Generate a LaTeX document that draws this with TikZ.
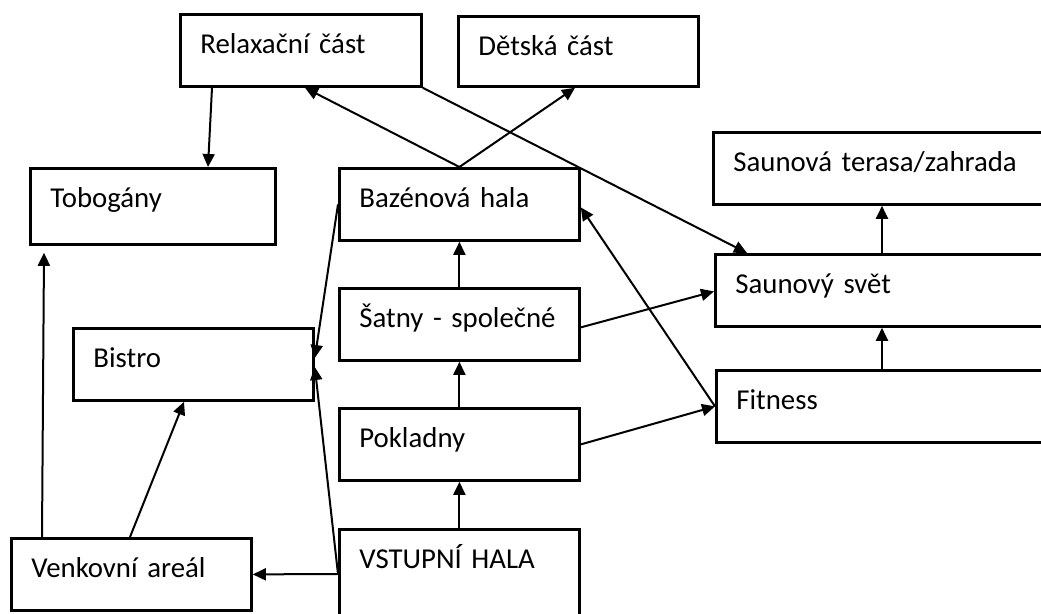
\documentclass[tikz,border=0pt]{standalone}
\usepackage{fontspec}
\setmainfont{Carlito}[WordSpace=0.6]
\usetikzlibrary{arrows.meta, calc}

\begin{document}
\begin{tikzpicture}[x=0.5pt, y=-0.5pt,
    room/.style={draw, line width=1.4pt, anchor=north west, inner xsep=10pt, inner ysep=0pt,
      align=left, text width=#1, text height=19.5pt, text depth=16.5pt,
      font=\fontsize{14.4}{17}\selectfont},
    link/.style={-{Triangle[length=6.5pt,width=6pt]}, line width=1pt}]
  \useasboundingbox (0,0) rectangle (1041,614);
  \clip (0,0) rectangle (1041,614);
  % rooms
  \node[room=100.5pt] (relax) at (179,13) {Relaxační část};
  \node[room=100pt, text depth=15.5pt] (deti) at (457,15) {Dětská část};
  \node[room=102.5pt, text depth=18.5pt] (tobo) at (29,167) {Tobogány};
  \node[room=100pt] (bazen) at (338,167) {Bazénová hala};
  \node[room=100pt] (satny) at (338,287) {Šatny - společné};
  \node[room=100pt] (pokl) at (338,407) {Pokladny};
  \node[room=100pt, text depth=40pt] (vstup) at (338,528) {VSTUPNÍ HALA};
  \node[room=100pt] (bistro) at (72,327) {Bistro};
  \node[room=100pt] (venek) at (10,537) {Venkovní areál};
  \node[room=160pt] (terasa) at (712,131) {Saunová terasa/zahrada};
  \node[room=160pt] (svet) at (714,253) {Saunový svět};
  \node[room=160pt] (fit) at (715,369) {Fitness};
  % links
  \draw[link] ($(relax.south west)+(33,0)$) -- ($(tobo.north west)+(179,0)$);
  \draw[link] (bazen.north) -- ($(relax.south west)+(126,0)$);
  \draw[link] (bazen.north) -- ($(deti.south west)+(118,0)$);
  \draw[link] (relax.south east) -- ($(svet.north west)+(33,0)$);
  \draw[link] (satny.north) -- (bazen.south);
  \draw[link] (pokl.north) -- (satny.south);
  \draw[link] (vstup.north) -- (pokl.south);
  \draw[link] ($(satny.east)+(0,3)$) -- ($(svet.west)+(0,1)$);
  \draw[link] (pokl.east) -- (fit.west);
  \draw[link] (fit.west) -- ($(bazen.east)+(0,3)$);
  \draw[link] ($(fit.north west)+(167,0)$) -- ($(svet.south west)+(168,0)$);
  \draw[link] ($(svet.north west)+(168,0)$) -- ($(terasa.south west)+(170,0)$);
  \draw[link] (bazen.west) -- ($(bistro.north east)+(0,31)$);
  \draw[link] ($(vstup.north west)+(0,46)$) -- ($(bistro.north east)+(0,40)$);
  \draw[link] ($(vstup.north west)+(0,46)$) -- (venek.east);
  \draw[link] ($(venek.north west)+(120,0)$) -- ($(bistro.south west)+(112,0)$);
  \draw[link] ($(venek.north west)+(32,0)$) -- ($(tobo.south west)+(15,7)$);
\end{tikzpicture}
\end{document}
